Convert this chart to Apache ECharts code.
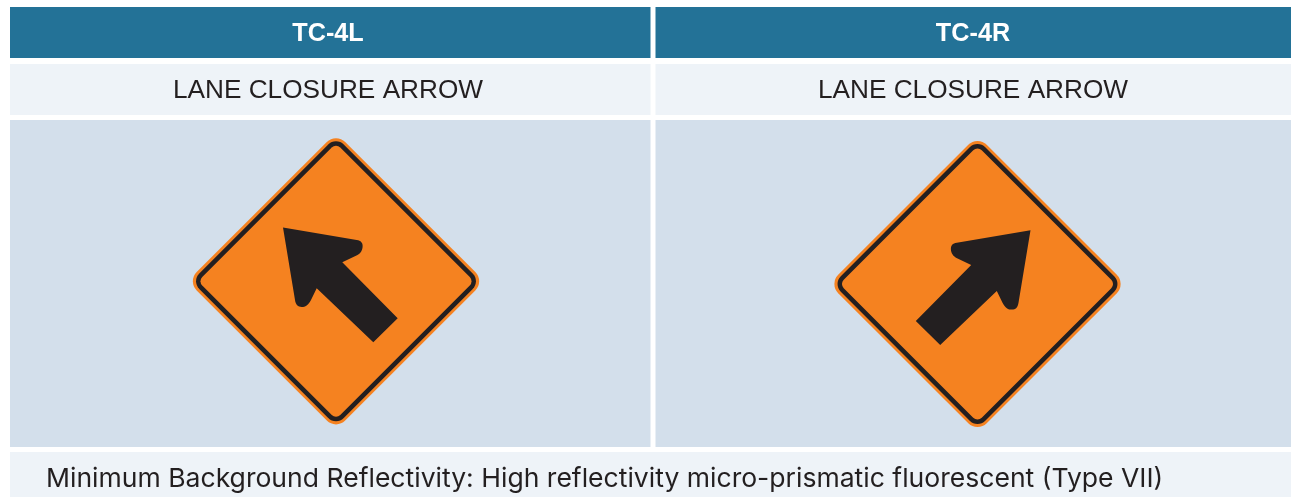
<!DOCTYPE html>
<html>
<head>
<meta charset="utf-8">
<style>html,body{margin:0;padding:0;background:#fff}#c{width:1291px;height:497px}</style>
<script src="https://cdn.jsdelivr.net/npm/echarts@6/dist/echarts.min.js"></script>
</head>
<body>
<div id="c"></div>
<script>
// ----- content -----
var signCodes = ['TC-4L', 'TC-4R'];
var signNames = ['LANE CLOSURE ARROW', 'LANE CLOSURE ARROW'];
var arrowDirections = [-1, 1];
var footerNote = 'Minimum Background Reflectivity: High reflectivity micro-prismatic fluorescent (Type VII)';

// ----- layout, in axis units -----
var columnSpans = [[10, 650.5], [655.5, 1291]];
var headerRow = [7, 58];
var nameRow = [64, 115];
var signRow = [120, 447];
var footerRow = [452, 497];
var signCentres = [[336, 281.3], [977.5, 284]];
var nameCentreX = [328, 973];
var headerCentreX = [328, 973];
var footerTextX = 46;

// ----- colours -----
var TEAL = '#237297', PALE = '#EEF3F8', BLUE = '#D3DFEB', ORANGE = '#F58220', INK = '#231F20';

// Diamond layers: half side, corner radius, colour
var diamondLayers = [
  [148.5, 13, ORANGE],
  [144.5, 11, INK],
  [138, 6, ORANGE]
];

// Arrow outline for the left-pointing sign, relative to the sign's centre.
// A point with three values is a curve control point.
var arrowOutline = [
  [-53, -53.7], [20.7, -41.3], [27, -40.4, 1], [26.6, -34.6], [26.3, -29, 1], [21, -26],
  [6.3, -19], [61.7, 37], [37.3, 61], [-19.3, 7], [-25, 18.7], [-29, 26.2, 1], [-34.3, 25.6],
  [-40, 25.8, 1], [-41, 18.7]
];

function flatten(outline) {
  var pts = [];
  for (var i = 0; i < outline.length; i++) {
    var p = outline[i];
    if (p.length === 3) {
      var a = outline[i - 1], b = outline[i + 1];
      for (var t = 0.125; t < 1; t += 0.125) {
        var u = 1 - t;
        pts.push([u * u * a[0] + 2 * u * t * p[0] + t * t * b[0], u * u * a[1] + 2 * u * t * p[1] + t * t * b[1]]);
      }
    } else {
      pts.push([p[0], p[1]]);
    }
  }
  return pts;
}

function rectEl(api, x0, y0, x1, y1, fill) {
  var a = api.coord([x0, y0]), b = api.coord([x1, y1]);
  return { type: 'rect', shape: { x: a[0], y: a[1], width: b[0] - a[0], height: b[1] - a[1] }, style: { fill: fill } };
}

function textEl(api, x, y, text, opt) {
  var p = api.coord([x, y]);
  return {
    type: 'text', x: p[0], y: p[1], scaleX: opt.scaleX, scaleY: opt.scaleY,
    style: {
      text: text, fill: opt.fill, align: opt.align || 'center', verticalAlign: 'middle',
      font: (opt.weight || 'normal') + ' ' + opt.size + 'px ' + (opt.family || '"Liberation Sans", Arial, sans-serif')
    }
  };
}

function renderColumn(params, api) {
  var i = api.value(0);
  var span = columnSpans[i];
  var kids = [];
  kids.push(rectEl(api, span[0], headerRow[0], span[1], headerRow[1], TEAL));
  kids.push(rectEl(api, span[0], nameRow[0], span[1], nameRow[1], PALE));
  kids.push(rectEl(api, span[0], signRow[0], span[1], signRow[1], BLUE));
  kids.push(textEl(api, headerCentreX[i], 33.5, signCodes[i], { size: 26, weight: 'bold', fill: '#FFFFFF', scaleX: 0.97, scaleY: 1 }));
  kids.push(textEl(api, nameCentreX[i], 91, signNames[i], { size: 26, fill: INK, scaleX: 1.008, scaleY: 1 }));

  var c = api.coord(signCentres[i]);
  diamondLayers.forEach(function (d) {
    var side = d[0] * Math.SQRT2;
    kids.push({
      type: 'rect', x: c[0], y: c[1], rotation: Math.PI / 4,
      shape: { x: -side / 2, y: -side / 2, width: side, height: side, r: d[1] },
      style: { fill: d[2] }
    });
  });
  var mirror = -arrowDirections[i];
  kids.push({
    type: 'polygon',
    shape: { points: flatten(arrowOutline).map(function (p) { return [c[0] + mirror * p[0], c[1] + p[1]]; }) },
    style: { fill: INK }
  });
  return { type: 'group', children: kids };
}

function renderFooter(params, api) {
  return {
    type: 'group',
    children: [
      rectEl(api, columnSpans[0][0], footerRow[0], columnSpans[1][1], footerRow[1], PALE),
      textEl(api, footerTextX, 479, footerNote, { size: 26, fill: INK, align: 'left', scaleX: 1.021, scaleY: 1, family: 'Inter, sans-serif' })
    ]
  };
}

var chart = echarts.init(document.getElementById('c'), null, { renderer: 'canvas' });
chart.setOption({
  animation: false,
  backgroundColor: '#FFFFFF',
  grid: { left: 0, right: 0, top: 0, bottom: 0 },
  xAxis: { type: 'value', min: 0, max: 1291, show: false },
  yAxis: { type: 'value', min: 0, max: 497, inverse: true, show: false },
  series: [
    { type: 'custom', coordinateSystem: 'cartesian2d', renderItem: renderColumn, clip: false, silent: true,
      encode: { x: 1, y: 2 }, data: signCodes.map(function (_, i) { return [i, 0, 0]; }) },
    { type: 'custom', coordinateSystem: 'cartesian2d', renderItem: renderFooter, clip: false, silent: true,
      encode: { x: 1, y: 2 }, data: [[0, 0, 0]] }
  ]
});
</script>
</body>
</html>
